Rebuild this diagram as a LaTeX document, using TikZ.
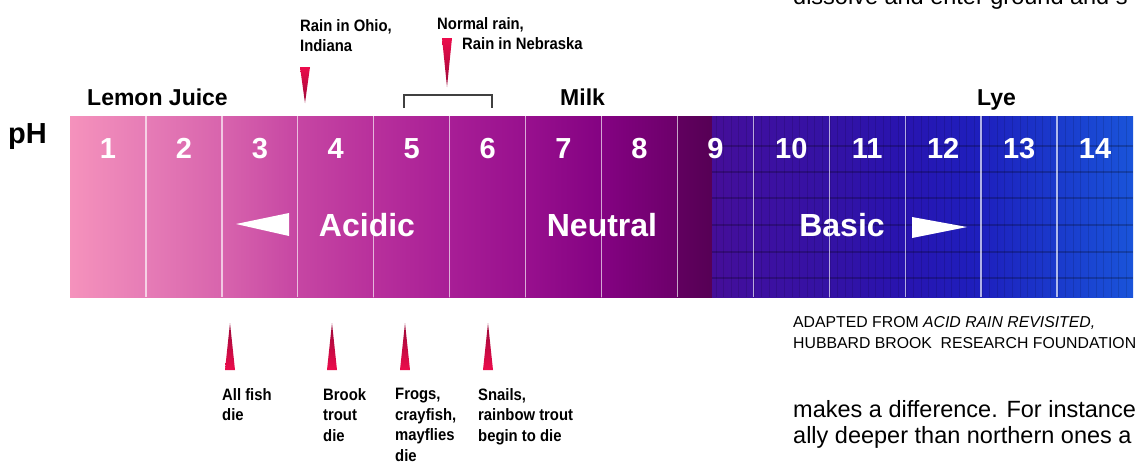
\documentclass[tikz,border=0pt]{standalone}
\usepackage{fontspec}
\setmainfont{Liberation Sans}
\newfontfamily\notefont[FakeStretch=0.9]{Liberation Sans}

\definecolor{c0}{HTML}{F592BC}
\definecolor{c1}{HTML}{E67CB6}
\definecolor{c2}{HTML}{D864AD}
\definecolor{c3}{HTML}{C646A3}
\definecolor{c4}{HTML}{B8309C}
\definecolor{c5}{HTML}{A81E96}
\definecolor{c6}{HTML}{98108E}
\definecolor{c7}{HTML}{840282}
\definecolor{c8}{HTML}{6C006A}
\definecolor{c9}{HTML}{3E10A0}
\definecolor{c10}{HTML}{3412A4}
\definecolor{c11}{HTML}{2814B0}
\definecolor{c12}{HTML}{1E20BE}
\definecolor{c13}{HTML}{1A3ACC}
\definecolor{c14}{HTML}{1A54DA}
\definecolor{wedgered}{HTML}{EC0C4C}
\definecolor{wedgedark}{HTML}{9A0838}

\tikzset{
  phnum/.style={anchor=base,text=white,font=\bfseries\fontsize{29}{29}\selectfont},
  bigword/.style={anchor=base,text=white,font=\bfseries\fontsize{32}{32}\selectfont},
  sample/.style={anchor=base west,font=\bfseries\fontsize{23}{23}\selectfont},
  note/.style={anchor=north west,align=left,inner sep=0pt,font={\notefont\bfseries\fontsize{16.5}{20.5}\selectfont}},
  wedgedown/.style={top color=wedgered,bottom color=wedgedark,draw=none},
  wedgeup/.style={top color=wedgedark,bottom color=wedgered,draw=none},
  bodytext/.style={anchor=base west,inner sep=0pt,font=\fontsize{23.5}{26}\selectfont},
}

\begin{document}
\begin{tikzpicture}[x=1pt,y=-1pt]
\useasboundingbox (0,0) rectangle (1135,464);
\clip (0,0) rectangle (1135,464);
\fill[white] (0,0) rectangle (1135,464);
\foreach \i [evaluate=\i as \j using int(\i-1)] in {1,...,14}
  \path[left color=c\j,right color=c\i] (70+75.93*\j,116) rectangle (70+75.93*\i,297);
\path[left color=c8!90!black,right color=c8!80!black] (677,116) rectangle (712,297);
\path[left color=c9!85!c8,right color=c9] (712,116) rectangle (754,297);
\foreach \y in {146,172,198,225,252,278}
  \draw[black,opacity=.22,line width=1.5] (712,\y) -- (1133,\y);
\foreach \x in {716,723.6,...,1133}
  \draw[black,opacity=.12,line width=1] (\x,116) -- (\x,297);
\foreach \i in {1,...,13}
  \draw[white,opacity=.65,line width=1.4] (70+75.93*\i,116) -- (70+75.93*\i,297);
\foreach \i in {1,...,14}
  \node[phnum] (n\i) at (70+75.93*\i-37.96,158) {\i};
\node[anchor=base west,inner sep=0pt,font=\bfseries\fontsize{29}{29}\selectfont] (ph) at (8,143) {pH};
\node[sample,inner sep=0pt] (lemon) at (87,105) {Lemon Juice};
\node[sample,inner sep=0pt] (milk) at (560,105) {Milk};
\node[sample,inner sep=0pt] (lye) at (977,105) {Lye};
\node[bigword] (acidic) at (367,236.5) {Acidic};
\node[bigword] (neutral) at (602,236.5) {Neutral};
\node[bigword] (basic) at (842,236.5) {Basic};
\fill[white] (236,224) -- (289,213) -- (289,236) -- cycle;
\fill[white] (912,217) -- (912,238) -- (967,227) -- cycle;
\node[note] (ohio) at (300,19) {Rain in Ohio,\\Indiana};
\node[note] (normal) at (437,17) {Normal rain,};
\node[note] (nebraska) at (462,37) {Rain in Nebraska};
\path[wedgedown] (300,67) -- (310,67) -- (305,103) -- cycle;
\path[wedgedown] (442,38) -- (452,38) -- (447,87) -- cycle;
\coordinate (brl) at (404,108);
\coordinate (brr) at (492,108);
\draw[black!75,line width=2] (brl) -- ++(0,-13) -| (brr);
\path[wedgeup] (225,370) -- (235,370) -- (230,323) -- cycle;
\path[wedgeup] (327,370) -- (337,370) -- (332,323) -- cycle;
\path[wedgeup] (400,370) -- (410,370) -- (405,323) -- cycle;
\path[wedgeup] (483,370) -- (493,370) -- (488,323) -- cycle;
\node[note] (fish) at (222,388) {All fish\\die};
\node[note] (brook) at (323,388) {Brook\\trout\\die};
\node[note] (frogs) at (395,388) {Frogs,\\crayfish,\\mayflies\\die};
\node[note] (snails) at (478,388) {Snails,\\rainbow trout\\begin to die};
\node[anchor=north west,inner sep=0pt,font=\fontsize{15.8}{21}\selectfont,align=left] (source) at (793,316)
  {ADAPTED FROM \textit{ACID RAIN REVISITED,}\\HUBBARD BROOK\ \ RESEARCH FOUNDATION};
\node[bodytext] (topline) at (793,4) {dissolve and enter ground and s};
\node[bodytext] (line1) at (793,417) {makes a difference. For instance};
\node[bodytext] (line2) at (793,443) {ally deeper than northern ones a};
\end{tikzpicture}
\end{document}
